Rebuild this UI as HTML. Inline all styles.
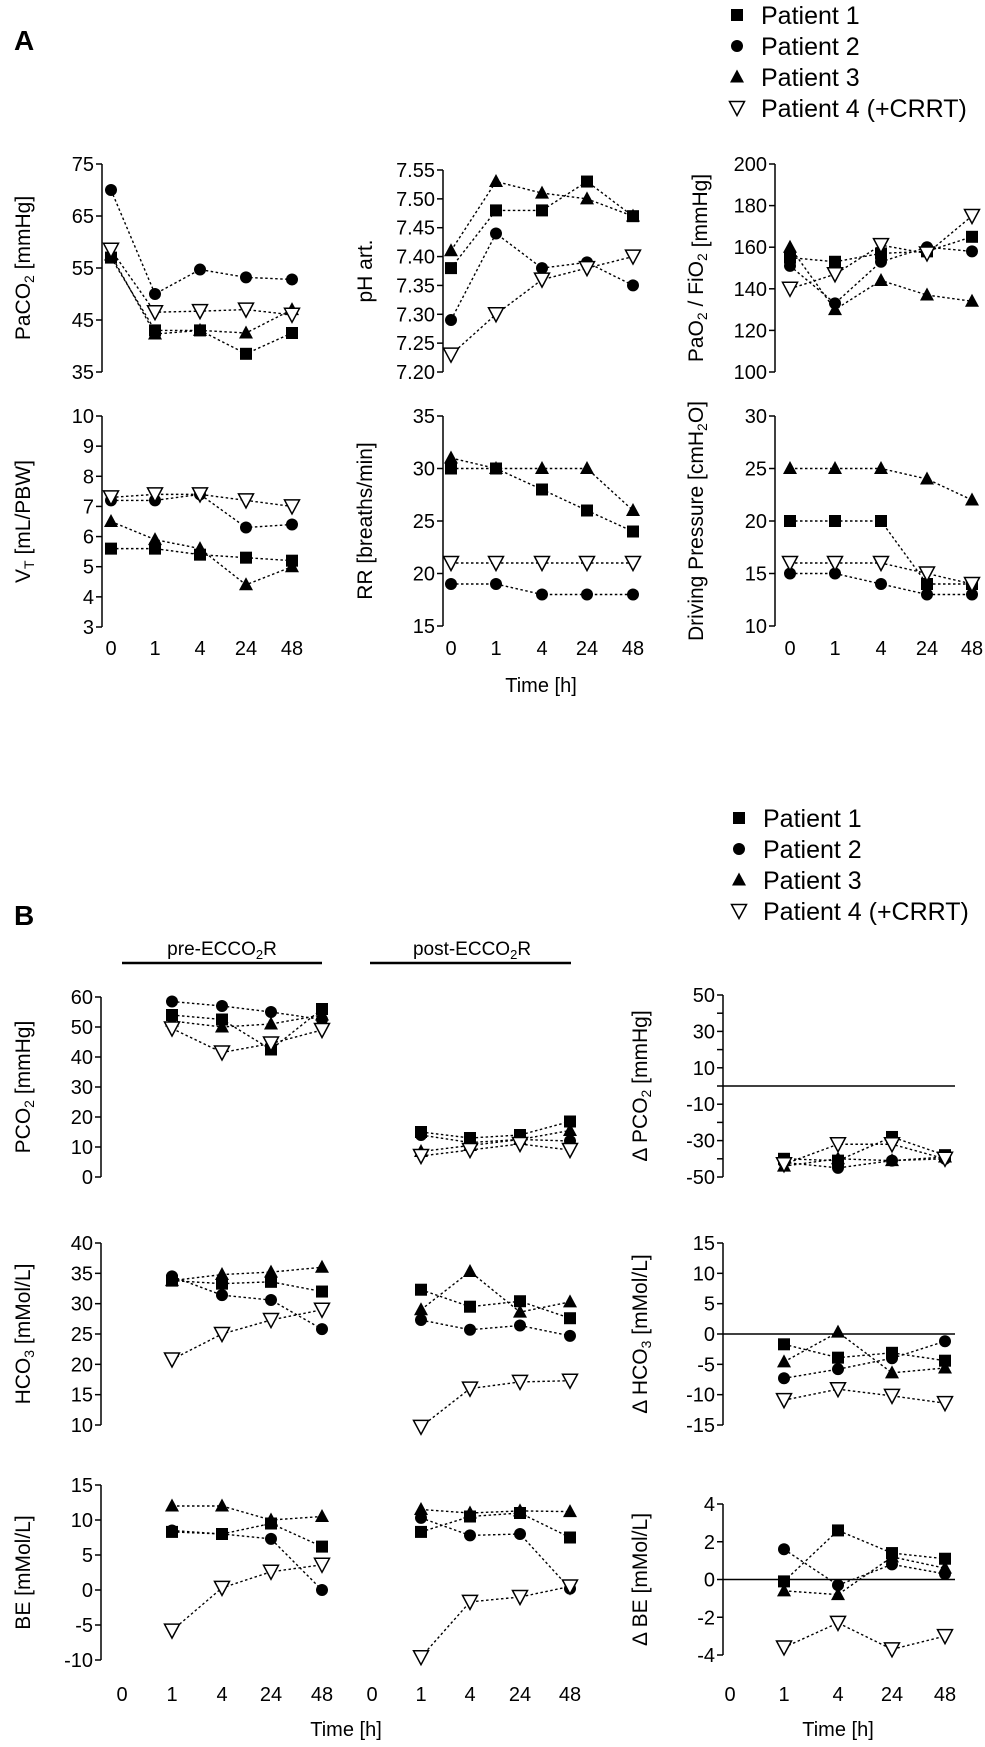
<!DOCTYPE html>
<html><head><meta charset="utf-8">
<style>
html,body{margin:0;padding:0;background:#fff;}
svg{display:block;font-family:"Liberation Sans",Arial,sans-serif;}
</style></head>
<body>
<svg id="fig" width="985" height="1747" viewBox="0 0 985 1747" xmlns="http://www.w3.org/2000/svg">
<text x="14" y="50" font-size="28" font-weight="bold">A</text>
<text x="14" y="925" font-size="28" font-weight="bold">B</text>
<g>
<text x="222" y="955" font-size="19" text-anchor="middle">pre-ECCO<tspan font-size="13" dy="4">2</tspan><tspan dy="-4">R</tspan></text>
<line x1="122" y1="963" x2="322" y2="963" stroke="#000" stroke-width="2.5"/>
</g>
<g>
<text x="472" y="955" font-size="19" text-anchor="middle">post-ECCO<tspan font-size="13" dy="4">2</tspan><tspan dy="-4">R</tspan></text>
<line x1="370" y1="963" x2="571" y2="963" stroke="#000" stroke-width="2.5"/>
</g>
<text x="541" y="692" font-size="20" text-anchor="middle">Time [h]</text>
<text x="346" y="1736" font-size="20" text-anchor="middle">Time [h]</text>
<text x="838" y="1736" font-size="20" text-anchor="middle">Time [h]</text>
</svg>
<script>
// ---- categories ----
const timeCats = ['0','1','4','24','48'];
const timeCatsB = ['1','4','24','48'];
// ---- Panel A ----
const paco2P1=[57,43,43,38.5,42.5], paco2P2=[70,50,54.7,53.2,52.8], paco2P3=[57.5,42.3,43,42.5,47], paco2P4=[58.5,46.5,46.7,47,46];
const phP1=[7.38,7.48,7.48,7.53,7.47], phP2=[7.29,7.44,7.38,7.39,7.35], phP3=[7.41,7.53,7.51,7.50,7.47], phP4=[7.23,7.30,7.36,7.38,7.40];
const pfP1=[155,153,157,158,165], pfP2=[151,133,153,160,158], pfP3=[160,130,144,137,134], pfP4=[140,147,161,157,175];
const vtP1=[5.6,5.6,5.4,5.3,5.2], vtP2=[7.2,7.2,7.4,6.3,6.4], vtP3=[6.5,5.9,5.6,4.4,5.0], vtP4=[7.3,7.4,7.4,7.2,7.0];
const rrP1=[30,30,28,26,24], rrP2=[19,19,18,18,18], rrP3=[31,30,30,30,26], rrP4=[21,21,21,21,21];
const dpP1=[20,20,20,14,14], dpP2=[15,15,14,13,13], dpP3=[25,25,25,24,22], dpP4=[16,16,16,15,14];
// ---- Panel B ----
const pco2PreP1=[54,52.5,42.5,56], pco2PreP2=[58.5,57,55,52.5], pco2PreP3=[52,50,51,54], pco2PreP4=[49.5,41.5,44.5,49];
const pco2PostP1=[15,13,14,18.5], pco2PostP2=[14,11.5,12.5,12], pco2PostP3=[8.5,10.5,12.5,15.5], pco2PostP4=[7,9,11,9];
const dpco2P1=[-40,-41,-28,-38], dpco2P2=[-42,-45,-41,-40], dpco2P3=[-44,-40,-41,-39], dpco2P4=[-43,-32,-32,-40];
const hco3PreP1=[33.8,33.3,33.6,32], hco3PreP2=[34.5,31.4,30.6,25.8], hco3PreP3=[33.8,34.8,35.2,36], hco3PreP4=[20.8,25,27.3,29];
const hco3PostP1=[32.3,29.5,30.4,27.6], hco3PostP2=[27.3,25.7,26.4,24.7], hco3PostP3=[29,35.3,28.6,30.3], hco3PostP4=[9.7,16,17.1,17.3];
const dhco3P1=[-1.7,-3.9,-3.1,-4.4], dhco3P2=[-7.3,-5.8,-4,-1.2], dhco3P3=[-4.6,0.3,-6.4,-5.6], dhco3P4=[-10.9,-9.1,-10.2,-11.4];
const bePreP1=[8.3,8,9.5,6.2], bePreP2=[8.5,8,7.3,0], bePreP3=[12,12,10,10.5], bePreP4=[-5.8,0.3,2.6,3.6];
const bePostP1=[8.3,10.5,11,7.5], bePostP2=[10.3,7.8,8,0.2], bePostP3=[11.5,11,11.3,11.2], bePostP4=[-9.6,-1.7,-1,0.5];
const dbeP1=[-0.1,2.6,1.4,1.1], dbeP2=[1.6,-0.3,0.8,0.3], dbeP3=[-0.6,-0.8,1.2,0.6], dbeP4=[-3.6,-2.3,-3.7,-3.0];
// ---- tick labels ----
const paco2Ticks=[75,65,55,45,35], phTicks=['7.55','7.50','7.45','7.40','7.35','7.30','7.25','7.20'], pfTicks=[200,180,160,140,120,100];
const vtTicks=[10,9,8,7,6,5,4,3], rrTicks=[35,30,25,20,15], dpTicks=[30,25,20,15,10];
const pco2Ticks=[60,50,40,30,20,10,0], dpco2Ticks=[50,40,30,20,10,0,-10,-20,-30,-40,-50], dpco2Labels=[50,30,10,-10,-30,-50];
const hco3Ticks=[40,35,30,25,20,15,10], dhco3Ticks=[15,10,5,0,-5,-10,-15];
const beTicks=[15,10,5,0,-5,-10], dbeTicks=[4,2,0,-2,-4];

const NS='http://www.w3.org/2000/svg';
const svg=document.getElementById('fig');
function mk(tag,attrs,parent){const e=document.createElementNS(NS,tag);for(const k in attrs)e.setAttribute(k,attrs[k]);(parent||svg).appendChild(e);return e;}

function marker(g,kind,x,y){
  let e;
  if(kind===0){e=mk('rect',{x:x-6,y:y-6,width:12,height:12,fill:'#000'},g);}
  else if(kind===1){e=mk('circle',{cx:x,cy:y,r:6,fill:'#000'},g);}
  else if(kind===2){e=mk('polygon',{points:`${x},${y-7.5} ${x+7},${y+5.5} ${x-7},${y+5.5}`,fill:'#000'},g);}
  else {e=mk('polygon',{points:`${x-7.5},${y-6.5} ${x+7.5},${y-6.5} ${x},${y+7.5}`,fill:'#fff',stroke:'#000','stroke-width':1.5},g);}
  
  
}

function axis(name,ax,yTop,yBot,vmax,vmin,ticks,labels,ylabel,ylx){
  const g=mk('g',{});
  
  
  const sc=v=>yTop+(vmax-v)/(vmax-vmin)*(yBot-yTop);
  mk('line',{x1:ax,y1:sc(vmax),x2:ax,y2:sc(vmin),stroke:'#000','stroke-width':1.5},g);
  ticks.forEach(t=>{const v=parseFloat(t);const y=sc(v);
    mk('line',{x1:ax-6,y1:y,x2:ax,y2:y,stroke:'#000','stroke-width':1.5},g);
    if(!labels||labels.map(String).includes(String(t))){
      const tx=mk('text',{x:ax-8,y:y+7,'font-size':20,'text-anchor':'end'},g);tx.textContent=t;}
  });
  const lab=mk('text',{transform:`translate(${ylx},${(yTop+yBot)/2}) rotate(-90)`,'font-size':21,'text-anchor':'middle'},g);
  
  
  lab.innerHTML=ylabel;
  return sc;
}
function xlabels(name,xs,cats,y){
  const g=mk('g',{});
  
  
  cats.forEach((c,i)=>{const t=mk('text',{x:xs[i],y:y,'font-size':20,'text-anchor':'middle'},g);t.textContent=c;});
}
function series(name,sc,xs,list){
  const g=mk('g',{});
  
  
  list.forEach(vals=>{
    const pts=vals.map((v,i)=>`${xs[i]},${sc(v)}`).join(' ');
    mk('polyline',{points:pts,fill:'none',stroke:'#000','stroke-width':1.4,'stroke-dasharray':'2.5,2.5'},g);
  });
  list.forEach((vals,k)=>vals.forEach((v,i)=>marker(g,k,xs[i],sc(v))));
}
function zero(sc,x1,x2){const l=mk('line',{x1:x1,y1:sc(0),x2:x2,y2:sc(0),stroke:'#000','stroke-width':1.5});
  }
const sub=(s)=>`<tspan font-size="14" dy="4">${s}</tspan><tspan dy="-4">`;

const xA1=[111,155,200,246,292], xA2=[451,496,542,587,633], xA3=[790,835,881,927,972];
let s;
s=axis('paco2',102,164,372,75,35,paco2Ticks,null,`PaCO${sub('2')} [mmHg]</tspan>`,30);
series('paco2',s,xA1,[paco2P1,paco2P2,paco2P3,paco2P4]);
s=axis('ph',443,170,372,7.55,7.20,phTicks,null,'pH art.',372);
series('ph',s,xA2,[phP1,phP2,phP3,phP4]);
s=axis('pao2-fio2',775,164,372,200,100,pfTicks,null,`PaO${sub('2')} / FiO${sub('2')}</tspan> [mmHg]</tspan>`,703);
series('pao2-fio2',s,xA3,[pfP1,pfP2,pfP3,pfP4]);
s=axis('vt',102,416,627,10,3,vtTicks,null,`V<tspan font-size="14" dy="4">T</tspan><tspan dy="-4"> [mL/PBW]</tspan>`,30);
series('vt',s,xA1,[vtP1,vtP2,vtP3,vtP4]);
s=axis('rr',443,416,626,35,15,rrTicks,null,'RR [breaths/min]',372);
series('rr',s,xA2,[rrP1,rrP2,rrP3,rrP4]);
s=axis('driving-pressure',775,416,626,30,10,dpTicks,null,`Driving Pressure [cmH${sub('2')}O]</tspan>`,703);
series('driving-pressure',s,xA3,[dpP1,dpP2,dpP3,dpP4]);
xlabels('a1',xA1,timeCats,655);xlabels('a2',xA2,timeCats,655);xlabels('a3',xA3,timeCats,655);

const xPre=[172,222,271,322], xPost=[421,470,520,570], xD=[784,838,892,945];
const xLeftAll=[122,172,222,271,322,372,421,470,520,570], xRightAll=[730,784,838,892,945];
s=axis('pco2',101,997,1177,60,0,pco2Ticks,null,`PCO${sub('2')} [mmHg]</tspan>`,30);
series('pco2-pre',s,xPre,[pco2PreP1,pco2PreP2,pco2PreP3,pco2PreP4]);
series('pco2-post',s,xPost,[pco2PostP1,pco2PostP2,pco2PostP3,pco2PostP4]);
s=axis('delta-pco2',723,995,1177,50,-50,dpco2Ticks,dpco2Labels,`Δ PCO${sub('2')} [mmHg]</tspan>`,647);
zero(s,723,955);
series('delta-pco2',s,xD,[dpco2P1,dpco2P2,dpco2P3,dpco2P4]);
s=axis('hco3',101,1243,1425,40,10,hco3Ticks,null,`HCO${sub('3')} [mMol/L]</tspan>`,30);
series('hco3-pre',s,xPre,[hco3PreP1,hco3PreP2,hco3PreP3,hco3PreP4]);
series('hco3-post',s,xPost,[hco3PostP1,hco3PostP2,hco3PostP3,hco3PostP4]);
s=axis('delta-hco3',723,1243,1425,15,-15,dhco3Ticks,null,`Δ HCO${sub('3')} [mMol/L]</tspan>`,647);
zero(s,723,955);
series('delta-hco3',s,xD,[dhco3P1,dhco3P2,dhco3P3,dhco3P4]);
s=axis('be',101,1485,1660,15,-10,beTicks,null,'BE [mMol/L]',30);
series('be-pre',s,xPre,[bePreP1,bePreP2,bePreP3,bePreP4]);
series('be-post',s,xPost,[bePostP1,bePostP2,bePostP3,bePostP4]);
s=axis('delta-be',723,1504,1655,4,-4,dbeTicks,null,'Δ BE [mMol/L]',647);
zero(s,723,955);
series('delta-be',s,xD,[dbeP1,dbeP2,dbeP3,dbeP4]);
xlabels('b-left',xLeftAll,timeCats.concat(timeCats),1701);
xlabels('b-right',xRightAll,timeCats,1701);

function legend(name,x,ys){
  const g=mk('g',{});
  
  
  const names=['Patient 1','Patient 2','Patient 3','Patient 4 (+CRRT)'];
  names.forEach((n,k)=>{
    const e=mk('g',{},g);
    
    
    marker(e,k,x,ys[k]);
    const t=mk('text',{x:x+24,y:ys[k]+9,'font-size':25},e);t.textContent=n;
  });
}
legend('legend-a',737,[15,46,77,108]);
legend('legend-b',739,[818,849,880,911]);
</script>
</body></html>
